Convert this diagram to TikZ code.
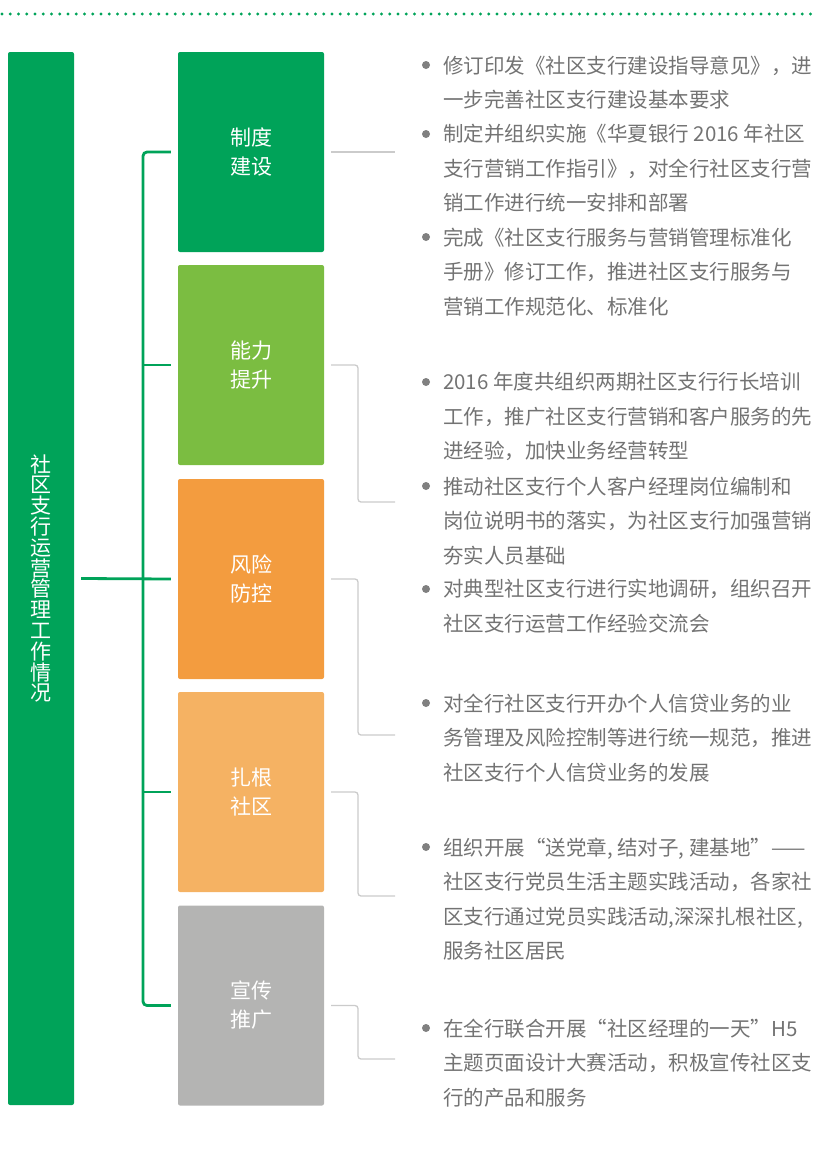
\documentclass[tikz,border=0pt]{standalone}
\usepackage{fontspec}
\newfontfamily\cjk{Noto Sans CJK SC}
\usetikzlibrary{positioning}
\definecolor{bankgreen}{HTML}{00A359}
\definecolor{leafgreen}{HTML}{7BBD41}
\definecolor{deeporange}{HTML}{F39C3F}
\definecolor{lightorange}{HTML}{F5B263}
\definecolor{stone}{HTML}{B4B4B3}
\definecolor{linegray}{HTML}{CBCBCB}
\definecolor{txtgray}{HTML}{737373}
\definecolor{dotgray}{HTML}{808080}
\tikzset{
  pillar/.style={fill=bankgreen, rounded corners=2pt, minimum width=66pt, minimum height=1053pt,
    inner sep=0pt, text=white, align=center, font=\cjk\fontsize{21}{20.8}\selectfont},
  pane/.style={rounded corners=2pt, minimum width=146pt, minimum height=200pt,
    inner sep=0pt, text=white, align=center, font=\cjk\fontsize{21}{29}\selectfont},
  trunk/.style={bankgreen, line width=2.8pt, rounded corners=4pt},
  lead/.style={linegray, line width=1.3pt, rounded corners=3pt},
  item/.style={anchor=north west, inner sep=0pt, align=left, text=txtgray,
    font=\cjk\fontsize{20.5}{34.5}\selectfont},
}
\begin{document}
\begin{tikzpicture}[x=1pt,y=-1pt]
\useasboundingbox (0,0) rectangle (814,1165);
% dotted rule at the top
\draw[bankgreen, line width=3.1pt, line cap=round, dash pattern=on 0pt off 8.25pt] (2,14) -- (814,14);
% title bar and the five boxes
\node[pillar] (title) at (41,578.5) {社\\区\\支\\行\\运\\营\\管\\理\\工\\作\\情\\况};
\node[pane, fill=bankgreen] (b1) at (251,152) {制度\\建设};
\node[pane, fill=leafgreen] (b2) at (251,365) {能力\\提升};
\node[pane, fill=deeporange] (b3) at (251,579) {风险\\防控};
\node[pane, fill=lightorange] (b4) at (251,792) {扎根\\社区};
\node[pane, fill=stone] (b5) at (251,1005.5) {宣传\\推广};
% green bracket
\coordinate (spine) at (143,0);
\draw[trunk] ([xshift=-7pt]b1.west) -| (spine |- b5.west) -- ([xshift=-7pt]b5.west);
\draw[trunk] ([xshift=7pt]title.east) -- ([xshift=-7pt]b3.west);
\draw[trunk] (spine |- b2.west) -- ([xshift=-7pt]b2.west);
\draw[trunk] (spine |- b4.west) -- ([xshift=-7pt]b4.west);
% gray leads
\coordinate (knee) at (358,0);
\coordinate (e1) at (395,152);
\coordinate (e2) at (395,502);
\coordinate (e3) at (395,735);
\coordinate (e4) at (395,896);
\coordinate (e5) at (395,1059);
\draw[lead] ([xshift=7pt]b1.east) -- (e1);
\draw[lead] ([xshift=7pt]b2.east) -| (knee |- e2) -- (e2);
\draw[lead] ([xshift=7pt]b3.east) -| (knee |- e3) -- (e3);
\draw[lead] ([xshift=7pt]b4.east) -| (knee |- e4) -- (e4);
\draw[lead] ([xshift=7pt]b5.east) -| (knee |- e5) -- (e5);
% bullets
\foreach \y in {65,134,237,382,486,589,703,847,1028}
  \fill[dotgray] (426,\y) circle (4pt);
% texts
\node[item] (t1) at (443,55.4) {修订印发《社区支行建设指导意见》，进\\一步完善社区支行建设基本要求};
\node[item] (t2) at (443,124.4) {制定并组织实施《华夏银行 2016 年社区\\支行营销工作指引》，对全行社区支行营\\销工作进行统一安排和部署};
\node[item] (t3) at (443,227.4) {完成《社区支行服务与营销管理标准化\\手册》修订工作，推进社区支行服务与\\营销工作规范化、标准化};
\node[item] (t4) at (443,372.4) {2016 年度共组织两期社区支行行长培训\\工作，推广社区支行营销和客户服务的先\\进经验，加快业务经营转型};
\node[item] (t5) at (443,476.4) {推动社区支行个人客户经理岗位编制和\\岗位说明书的落实，为社区支行加强营销\\夯实人员基础};
\node[item] (t6) at (443,579.4) {对典型社区支行进行实地调研，组织召开\\社区支行运营工作经验交流会};
\node[item] (t7) at (443,693.4) {对全行社区支行开办个人信贷业务的业\\务管理及风险控制等进行统一规范，推进\\社区支行个人信贷业务的发展};
\node[item] (t8) at (443,837.4) {组织开展“送党章, 结对子, 建基地”——\\社区支行党员生活主题实践活动，各家社\\区支行通过党员实践活动,深深扎根社区,\\服务社区居民};
\node[item] (t9) at (443,1018.4) {在全行联合开展“社区经理的一天”H5\\主题页面设计大赛活动，积极宣传社区支\\行的产品和服务};
\end{tikzpicture}
\end{document}
